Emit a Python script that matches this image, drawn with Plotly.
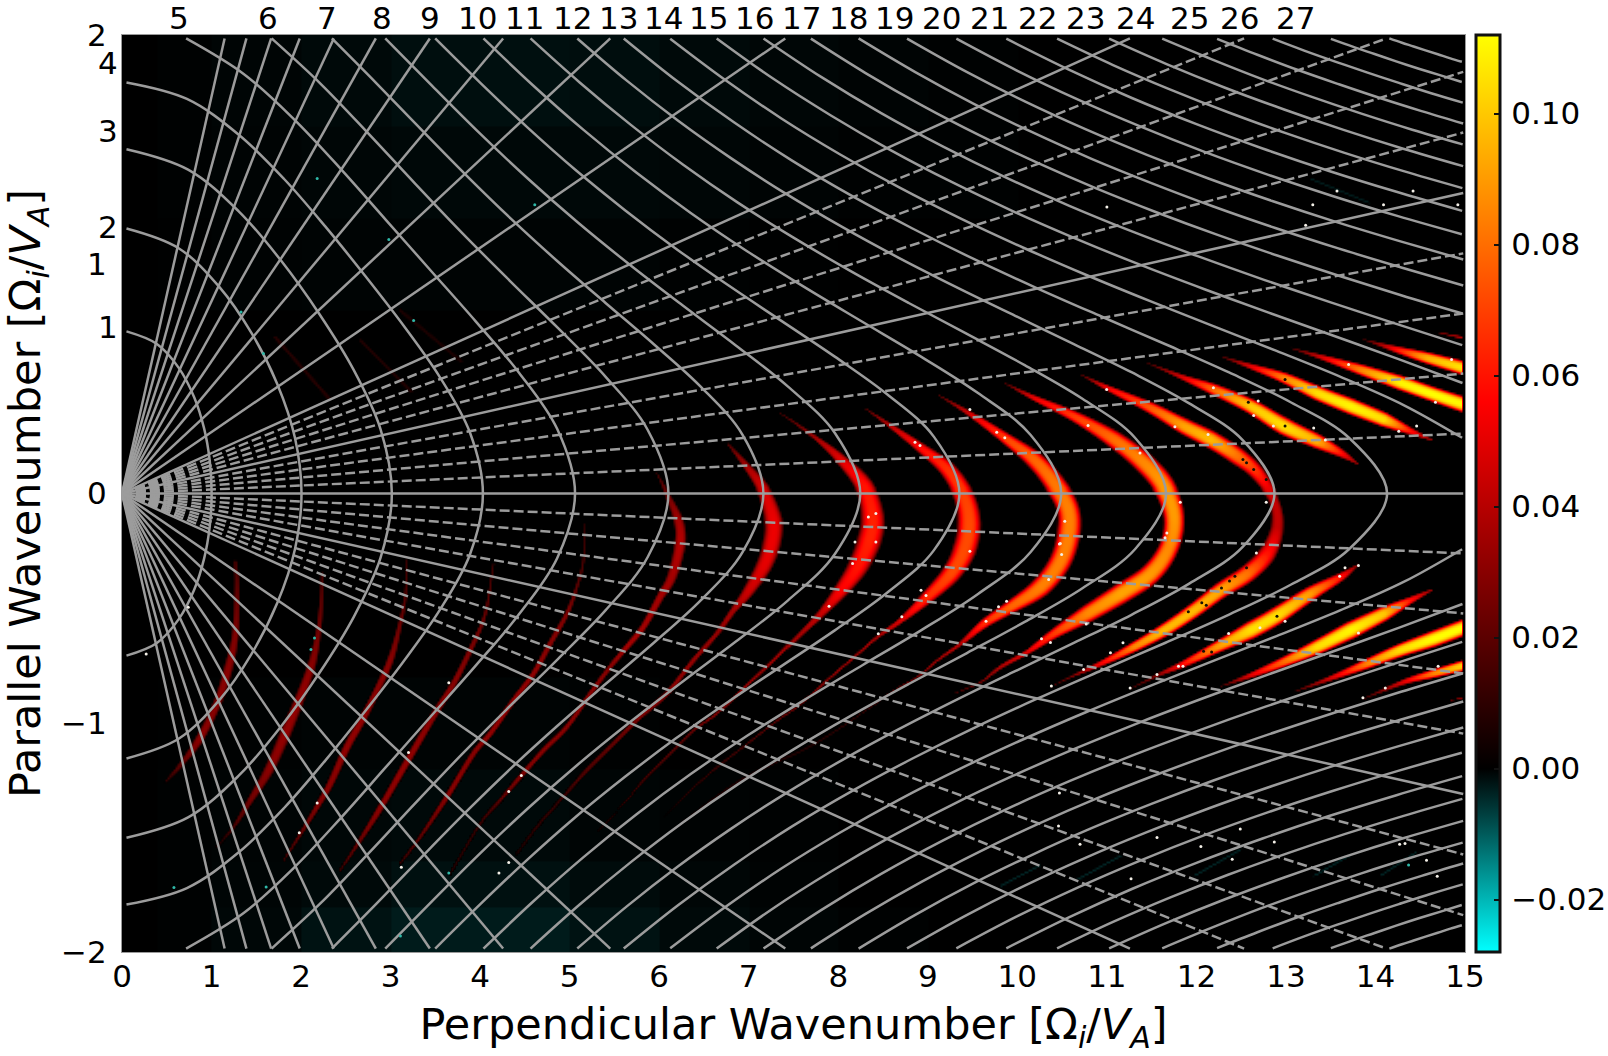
import numpy as np
import plotly.graph_objects as go

W, H = 1608, 1056
L, R, T, B = 122, 1465, 35, 952
XR = [0, 15]
YR = [-2, 2]
GRAY = "#9c9c9c"
FONT = "DejaVu Sans"

# Rays of constant propagation angle, measured from the perpendicular axis
ray_solid_deg = [0, 5, 10, 15, 20, 25, 30, 35, 40, 45, 50, 55, 60]
ray_dashed_deg = [1, 2, 3, 4, 6, 7, 8, 9]

# Harmonic numbers written along the top and left edges
top_n = list(range(5, 28))
top_x = [.642,1.627,2.292,2.899,3.438,3.965,4.492,5.03,5.546,6.05,6.554,7.059,7.586,8.113,8.628,9.155,9.694,10.22,10.76,11.32,11.92,12.48,13.11]
left_n = [1, 2, 3, 4]
left_y = [.725, 1.161, 1.583, 1.876]

# Constant-frequency contours for each harmonic: upper half, the lower half mirrors it
c1_x=[.05,.386,.634,.805,.917,.98,1.001]
c1_y=[.707,.653,.548,.421,.284,.143,0]
c2_x=[.05,.633,1.089,1.449,1.734,1.931,2.005]
c2_y=[1.156,1.07,.9,.698,.478,.244,0]
c3_x=[.05,.738,1.301,1.778,2.204,2.586,2.888,3.014]
c3_y=[1.502,1.413,1.232,1.015,.783,.54,.28,0]
c4_x=[.05,.725,1.304,1.808,2.27,2.713,3.144,3.55,3.885,4.031]
c4_y=[1.793,1.721,1.565,1.373,1.165,.951,.733,.508,.267,0]
c5_x=[.716,1.359,1.922,2.44,2.944,3.445,3.948,4.436,4.86,5.06]
c5_y=[1.985,1.83,1.632,1.417,1.195,.974,.752,.526,.282,0]
c6_x=[1.671,2.227,2.753,3.271,3.795,4.329,4.871,5.402,5.872,6.103]
c6_y=[1.985,1.784,1.57,1.353,1.138,.929,.721,.509,.277,0]
c7_x=[2.344,2.845,3.338,3.834,4.343,4.867,5.401,5.943,6.466,6.931,7.164]
c7_y=[1.985,1.788,1.589,1.392,1.199,1.012,.831,.65,.465,.256,0]
c8_x=[2.94,3.464,3.991,4.532,5.092,5.668,6.26,6.856,7.439,7.964,8.246]
c8_y=[1.985,1.778,1.573,1.374,1.182,.999,.821,.646,.466,.263,0]
c9_x=[3.498,4.008,4.528,5.063,5.618,6.187,6.772,7.365,7.961,8.542,9.069,9.353]
c9_y=[1.985,1.789,1.597,1.412,1.236,1.068,.908,.753,.597,.434,.247,0]
c10_x=[4.037,4.589,5.155,5.744,6.352,6.982,7.623,8.269,8.924,9.561,10.149,10.49]
c10_y=[1.985,1.781,1.586,1.4,1.224,1.057,.9,.749,.597,.438,.255,0]
c11_x=[4.563,5.112,5.68,6.268,6.874,7.5,8.139,8.787,9.437,10.082,10.727,11.314,11.661]
c11_y=[1.985,1.793,1.609,1.434,1.27,1.116,.97,.831,.696,.56,.413,.243,0]
c12_x=[5.085,5.638,6.212,6.801,7.413,8.038,8.671,9.324,9.976,10.631,11.275,11.92,12.517,12.872]
c12_y=[1.985,1.801,1.626,1.463,1.308,1.164,1.029,.899,.775,.652,.529,.393,.233,0]
c13_x=[5.604,6.21,6.835,7.484,8.152,8.829,9.524,10.228,10.939,11.655,12.365,13.058,13.71,14.13]
c13_y=[1.985,1.796,1.619,1.452,1.298,1.156,1.021,.894,.772,.651,.528,.397,.241,0]
c14_x=[6.123,6.734,7.369,8.017,8.686,9.369,10.068,10.771,11.477,12.196,12.895,13.604,14.314,14.968]
c14_y=[1.984,1.805,1.635,1.48,1.334,1.199,1.072,.953,.84,.729,.622,.51,.386,.243]
c15_x=[6.642,7.271,7.918,8.584,9.26,9.954,10.665,11.376,12.09,12.807,13.532,14.258,14.972]
c15_y=[1.985,1.81,1.649,1.498,1.36,1.231,1.11,.997,.891,.789,.688,.586,.482]
c16_x=[7.165,7.813,8.479,9.166,9.863,10.581,11.302,12.03,12.764,13.492,14.241,14.969]
c16_y=[1.985,1.816,1.659,1.514,1.38,1.255,1.14,1.033,.931,.835,.739,.647]
c17_x=[7.694,8.305,8.929,9.574,10.227,10.881,11.552,12.237,12.911,13.6,14.286,14.971]
c17_y=[1.984,1.834,1.694,1.563,1.442,1.331,1.227,1.128,1.037,.949,.865,.785]
c18_x=[8.227,8.86,9.503,10.16,10.829,11.505,12.19,12.89,13.585,14.288,14.98]
c18_y=[1.985,1.838,1.702,1.577,1.46,1.353,1.252,1.157,1.069,.986,.907]
c19_x=[8.768,9.423,10.089,10.76,11.447,12.142,12.847,13.558,14.27,14.98]
c19_y=[1.984,1.841,1.709,1.589,1.477,1.373,1.276,1.185,1.101,1.021]
c20_x=[9.319,9.995,10.679,11.372,12.083,12.804,13.511,14.243,14.965]
c20_y=[1.984,1.845,1.718,1.601,1.491,1.39,1.299,1.211,1.131]
c21_x=[9.877,10.575,11.286,12.008,12.739,13.482,14.234,14.968]
c21_y=[1.984,1.849,1.724,1.61,1.505,1.407,1.316,1.233]
c22_x=[10.444,11.069,11.703,12.354,13.006,13.655,14.315,14.971]
c22_y=[1.984,1.869,1.763,1.663,1.571,1.486,1.406,1.332]
c23_x=[11.025,11.667,12.32,12.98,13.644,14.31,14.979]
c23_y=[1.984,1.873,1.77,1.675,1.586,1.504,1.428]
c24_x=[11.618,12.166,12.719,13.281,13.843,14.411,14.974]
c24_y=[1.984,1.895,1.81,1.731,1.657,1.587,1.523]
c25_x=[12.231,12.681,13.143,13.6,14.059,14.515,14.979]
c25_y=[1.983,1.914,1.846,1.784,1.724,1.668,1.614]
c26_x=[12.852,13.204,13.558,13.912,14.262,14.622,14.975]
c26_y=[1.984,1.932,1.883,1.836,1.791,1.746,1.705]
c27_x=[13.502,13.746,13.99,14.231,14.484,14.719,14.964]
c27_y=[1.983,1.949,1.917,1.885,1.853,1.825,1.795]
c28_x=[14.155,14.296,14.426,14.559,14.696,14.837,14.965]
c28_y=[1.985,1.966,1.95,1.933,1.916,1.898,1.883]
contours = [(c1_x,c1_y),(c2_x,c2_y),(c3_x,c3_y),(c4_x,c4_y),(c5_x,c5_y),(c6_x,c6_y),(c7_x,c7_y),(c8_x,c8_y),
            (c9_x,c9_y),(c10_x,c10_y),(c11_x,c11_y),(c12_x,c12_y),(c13_x,c13_y),(c14_x,c14_y),(c15_x,c15_y),
            (c16_x,c16_y),(c17_x,c17_y),(c18_x,c18_y),(c19_x,c19_y),(c20_x,c20_y),(c21_x,c21_y),(c22_x,c22_y),
            (c23_x,c23_y),(c24_x,c24_y),(c25_x,c25_y),(c26_x,c26_y),(c27_x,c27_y),(c28_x,c28_y)]

# Growth-rate bands: ridge x, ridge y, half-thickness, ridge value
b1=([1.262,1.281,1.262,1.188,1.058,.853,.648,.481],[-.295,-.404,-.608,-.753,-.913,-1.073,-1.182,-1.255],[5,8,10,13,12,12,7,3],[.015,.02,.028,.03,.03,.03,.02,.01])
b2=([2.230,2.223,2.193,2.119,1.988,1.821,1.635,1.430,1.244,1.058],[-.346,-.462,-.593,-.739,-.884,-1.044,-1.204,-1.335,-1.451,-1.538],[4,6,8,12,14,16,14,9,5,3],[.015,.02,.025,.03,.032,.032,.03,.025,.015,.005])
b3=([3.180,3.161,3.087,2.994,2.845,2.677,2.510,2.324,2.175,1.970,1.802],[-.288,-.448,-.593,-.724,-.855,-.986,-1.102,-1.262,-1.364,-1.495,-1.597],[3,5,7,10,10,11,11,10,8,5,3],[.012,.018,.025,.03,.03,.032,.032,.03,.028,.02,.012])
b4=([4.148,4.055,3.887,3.701,3.515,3.254,3.105,2.845,2.584,2.435],[-.302,-.521,-.680,-.826,-.942,-1.117,-1.218,-1.393,-1.553,-1.640],[3,5,8,9,10,10,10,9,5,3],[.012,.022,.028,.03,.03,.032,.032,.03,.02,.012])
b5=([5.172,5.153,5.079,4.967,4.781,4.595,4.371,4.111,3.924,3.627,3.329,3.105],[-.128,-.288,-.404,-.521,-.651,-.782,-.899,-1.044,-1.131,-1.320,-1.495,-1.611],[3,4,5,7,8,8,8,8,8,8,5,3],[.01,.015,.02,.028,.03,.032,.032,.032,.03,.03,.02,.012])
b6=([5.972,6.084,6.214,6.233,6.139,6.009,5.823,5.637,5.451,5.228,4.967,4.706,4.446,4.222,3.999,3.664],[.090,.003,-.113,-.215,-.361,-.448,-.578,-.666,-.753,-.870,-1.015,-1.117,-1.233,-1.335,-1.437,-1.655],[2,7,14,16,14,11,9,8,7,7,7,7,7,5,4,3],[.012,.024,.036,.04,.036,.036,.036,.036,.03,.03,.03,.03,.028,.02,.012,.008])
b7=([6.772,6.977,7.163,7.275,7.256,7.163,6.977,6.828,6.642,6.382,6.084,5.786,5.488,5.190,4.893,4.632,4.409],[.214,.119,.018,-.113,-.215,-.317,-.433,-.506,-.608,-.724,-.870,-.971,-1.088,-1.204,-1.335,-1.451,-1.568],[3,10,18,25,25,22,15,9,7,7,7,7,6,6,4,4,3],[.018,.037,.047,.052,.052,.05,.044,.036,.033,.033,.03,.027,.022,.018,.012,.01,.006])
b8=([7.349,7.759,8.020,8.280,8.373,8.336,8.206,8.020,7.796,7.573,7.275,6.940,6.642,6.382,6.121,5.823,5.637,5.228],[.352,.236,.148,.032,-.099,-.201,-.317,-.419,-.521,-.608,-.724,-.848,-.957,-1.030,-1.131,-1.248,-1.335,-1.509],[2,7,15,25,32,33,28,20,11,7,5,4,4,4,4,3,2,1],[.012,.037,.05,.06,.063,.063,.06,.056,.044,.036,.034,.033,.028,.022,.018,.015,.01,.005])
b9=([8.280,8.578,8.913,9.211,9.397,9.453,9.397,9.248,8.987,8.690,8.429,8.168,7.908,7.573,7.275,6.940,6.605,6.233,5.823],[.374,.294,.199,.105,-.012,-.128,-.244,-.346,-.448,-.550,-.622,-.710,-.797,-.913,-1.000,-1.102,-1.204,-1.335,-1.495],[2,7,14,22,28,32,32,26,18,8,5,4,4,3,3,3,3,2,1],[.014,.042,.058,.066,.07,.072,.072,.072,.066,.048,.036,.033,.03,.026,.02,.015,.012,.008,.005])
b10=([9.099,9.471,9.881,10.179,10.402,10.551,10.570,10.477,10.253,9.918,9.620,9.360,9.099,8.876,8.615,8.354,7.72,6.9,6.2],[.432,.345,.235,.148,.047,-.055,-.157,-.288,-.404,-.491,-.564,-.651,-.724,-.797,-.855,-.928,-1.09,-1.25,-1.45],[2,8,16,24,28,30,32,30,27,18,13,6,4,3,2,2,3,3,2],[.014,.048,.072,.078,.082,.084,.084,.084,.084,.078,.066,.042,.033,.027,.018,.012,.008,.008,.005])
b11=([9.844,10.179,10.626,11.072,11.407,11.631,11.743,11.687,11.482,11.147,10.774,10.402,10.104,9.806,9.583,9.285],[.483,.417,.337,.236,.134,.032,-.099,-.230,-.346,-.433,-.521,-.608,-.688,-.753,-.819,-.870],[2,8,15,24,28,30,28,27,28,28,24,14,7,6,3,2],[.014,.052,.069,.08,.086,.09,.09,.086,.09,.092,.086,.069,.05,.038,.025,.012])
b12=([10.700,10.998,11.482,11.854,12.152,12.450,12.673,12.859,12.897,12.785,12.562,12.264,11.966,11.631,11.296,10.923,10.588,10.365],[.519,.461,.374,.294,.236,.163,.090,-.026,-.143,-.259,-.346,-.419,-.506,-.593,-.666,-.739,-.797,-.840],[2,8,16,22,24,24,20,14,18,24,24,22,20,18,14,8,3,2],[.013,.054,.076,.092,.097,.081,.065,.043,.043,.06,.081,.092,.097,.097,.086,.054,.025,.012])
b13u=([11.445,11.854,12.189,12.599,12.971,13.343,13.604,13.790],[.570,.505,.454,.381,.294,.228,.177,.131],[2,8,16,20,24,20,12,3],[.012,.05,.08,.1,.105,.095,.06,.03])
b13l=([13.790,13.604,13.269,12.897,12.599,12.227,11.854,11.556,11.259],[-.310,-.361,-.433,-.528,-.593,-.666,-.739,-.790,-.848],[3,12,20,24,24,16,10,5,2],[.03,.06,.09,.105,.105,.09,.06,.03,.012])
b14u=([12.264,12.599,12.971,13.343,13.716,14.088,14.386,14.628],[.599,.555,.505,.439,.381,.323,.272,.233],[2,8,15,20,22,20,10,3],[.012,.05,.085,.105,.11,.105,.06,.03])
b14l=([14.628,14.386,14.088,13.716,13.343,12.971,12.599,12.264],[-.416,-.462,-.521,-.593,-.666,-.731,-.790,-.838],[3,10,20,24,20,14,8,2],[.03,.06,.1,.11,.105,.08,.05,.012])
b15u=([13.046,13.418,13.827,14.274,14.646,15.1],[.635,.592,.541,.483,.432,.373],[2,8,15,20,20,22],[.012,.05,.085,.11,.112,.11])
b15l=([15.1,14.646,14.274,13.902,13.530,13.083],[-.563,-.630,-.680,-.739,-.797,-.862],[22,22,18,14,8,2],[.112,.112,.105,.085,.05,.012])
b16u=([13.865,14.237,14.572,15.1],[.672,.628,.592,.535],[2,10,16,20],[.012,.06,.095,.11])
b16l=([15.1,14.646,14.311,13.865],[-.735,-.782,-.819,-.891],[16,12,8,2],[.11,.085,.05,.012])
b17u=([14.684,15.1],[.704,.669],[2,6],[.02,.05])
b17l=([15.1,14.834],[-.878,-.899],[3,2],[.04,.02])
f1=([1.709,2.307],[.681,.416],[5,5],[.008,.008])
f2=([2.666,3.225],[.667,.445],[5,5],[.007,.007])
f3=([3.105,3.783],[.799,.578],[5,5],[.006,.006])
bands=[b1,b2,b3,b4,b5,b6,b7,b8,b9,b10,b11,b12,b13u,b13l,b14u,b14l,b15u,b15l,b16u,b16l,b17u,b17l,f1,f2,f3]

# Faint damped streaks (magnitudes of negative values)
t1=([9.807,10.24],[-1.709,-1.62],[3,3],[.004,.004])
t2=([10.67,11.15],[-1.68,-1.577],[3,3],[.004,.004])
t3=([11.97,12.49],[-1.665,-1.55],[3,3],[.004,.004])
t4=([13.31,13.7],[-1.665,-1.577],[3,3],[.004,.004])
t5=([14.05,14.44],[-1.665,-1.565],[3,3],[.004,.004])
t6=([13.27,13.92],[1.374,1.27],[3,3],[.003,.003])
teal_bands=[t1,t2,t3,t4,t5,t6]

# Weak negative background, in coarse blocks
haze_x=[0,.4,1,2,3,4,5,6,7,8,9,10,15]
haze_y=[-2,-1.8,-1.6,-1.2,-.8,.8,1.2,1.6,2]
haze_z=[
 [0,-.0002,-.0008,-.002,-.003,-.003,-.002,-.001,-.0005,-.0002,0,0],
 [0,-.0002,-.0005,-.001,-.0018,-.0018,-.0012,-.0007,-.0003,0,0,0],
 [0,-.0002,-.0004,-.0008,-.001,-.001,-.0006,-.0003,-.0002,0,0,0],
 [0,-.0001,-.0002,-.0004,-.0004,-.0004,-.0002,0,0,0,0,0],
 [0,0,0,0,0,0,0,0,0,0,0,0],
 [0,-.0001,-.0003,-.0004,-.0004,-.0004,-.0004,-.0002,-.0001,0,0,0],
 [0,-.0002,-.0004,-.0007,-.0009,-.0009,-.0009,-.0007,-.0004,-.0002,-.0002,0],
 [0,-.0002,-.0005,-.001,-.0015,-.0016,-.0014,-.001,-.0007,-.0004,-.0002,0],
]

# Isolated out-of-range cells
white_x=[10.79,10.998,12.19,12.69,11.37,11.82,11.67,11.65,10.48,10.495,10.53,12.67,12.78,13.81,13.66,13.60,12.99,12.71,12.36,13.81,10.77,11.18,11.04,10.74,11.56,11.80,11.85,11.26,10.38,14.85,14.67,14.26,14.46,14.70,14.11,13.86,13.70,13.44,12.64,12.86,13.31,11.76,12.13,8.857,8.913,8.336,8.42,8.42,8.187,8.16,7.897,9.47,8.924,8.98,8.71,8.447,9.77,9.86,9.47,10.47,10.35,9.88,9.79,9.65,10.27,10.37,.27,.74,4.32,4.21,4.46,4.32,3.65,3.2,1.98,2.18,3.12,12.49,12.87,14.33,14.27,11.56,12.05,12.4,11.27,14.69,14.57,10.7,10.46,10.47,11.0,13.3,13.57,14.42,14.09,14.92,13.22]
white_y=[.297,.454,.461,.403,.177,-.038,-.172,-.193,-.218,-.266,-.121,-.259,-.038,-.314,-.324,-.361,-.557,-.586,-.611,-.608,-.569,-.651,-.695,-.768,-.790,-.753,-.753,-.848,-.840,.584,.398,.272,.294,-.753,-.848,-.891,.563,.233,.340,.294,.286,.291,.257,.224,.209,-.102,-.087,-.212,-.212,-.305,-.492,-.252,-.422,-.445,-.538,-.612,.267,.243,.366,-.22,-.375,-.47,-.494,-.557,-.634,-.65,-.70,-.496,-1.61,-1.655,-1.23,-1.30,-.825,-1.13,-1.48,-1.35,-1.63,-1.464,-1.52,-1.527,-1.53,-1.5,-1.54,-1.595,-1.68,-1.67,-1.6,-1.53,-1.45,-1.306,1.25,1.26,1.32,1.32,1.26,1.26,1.17]
black_x=[12.58,12.99,12.99,12.28,12.37,12.43,12.56,12.06,12.11,11.91,12.90,12.08,12.17,12.56,12.52,12.64,12.78]
black_y=[.398,.497,.294,-.412,-.382,-.361,-.324,-.477,-.487,-.516,-.535,-.688,-.691,.134,.148,.105,.061]
teal_x=[2.18,2.98,3.257,1.33,1.58,4.61,.58,1.61,3.11,3.65,2.11,2.15,14.37]
teal_y=[1.374,1.108,.755,.792,.611,1.26,-1.719,-1.717,-1.93,-1.655,-.68,-.63,-1.62]

nx, ny = 672, 459
gx = np.linspace(XR[0], XR[1], nx)
gy = np.linspace(YR[0], YR[1], ny)
aspect = ((B - T) / 4) / ((R - L) / 15)
unit = 1.2 / 268.6

def rounded(xs, ys, hw, pk, sub=5):
    """Round a ridge through its table rows so that the band has no kinks."""
    xs, ys = np.asarray(xs, float), np.asarray(ys, float)
    if len(xs) < 3:
        return xs, ys, np.asarray(hw, float), np.asarray(pk, float)
    px = np.r_[2 * xs[0] - xs[1], xs, 2 * xs[-1] - xs[-2]]
    py = np.r_[2 * ys[0] - ys[1], ys, 2 * ys[-1] - ys[-2]]
    ox, oy, oh, ov = [], [], [], []
    for i in range(len(xs) - 1):
        for t in np.arange(sub) / sub:
            c = [-.5*t**3 + t**2 - .5*t, 1.5*t**3 - 2.5*t**2 + 1, -1.5*t**3 + 2*t**2 + .5*t, .5*t**3 - .5*t**2]
            ox.append(sum(c[j] * px[i + j] for j in range(4)))
            oy.append(sum(c[j] * py[i + j] for j in range(4)))
            oh.append(hw[i] + t * (hw[i + 1] - hw[i]))
            ov.append(pk[i] + t * (pk[i + 1] - pk[i]))
    ox.append(xs[-1]); oy.append(ys[-1]); oh.append(hw[-1]); ov.append(pk[-1])
    return np.array(ox), np.array(oy), np.array(oh), np.array(ov)

def stamp(field, xs, ys, hw, pk):
    xs, ys, hw, pk = rounded(xs, ys, hw, pk)
    for i in range(len(xs) - 1):
        x0, x1, y0, y1 = xs[i], xs[i + 1], ys[i], ys[i + 1]
        mw = max(hw[i], hw[i + 1]) * unit
        ix = np.where((gx >= min(x0, x1) - mw) & (gx <= max(x0, x1) + mw))[0]
        iy = np.where((gy >= min(y0, y1) - mw / aspect) & (gy <= max(y0, y1) + mw / aspect))[0]
        if len(ix) == 0 or len(iy) == 0:
            continue
        X, Y = np.meshgrid(gx[ix], gy[iy])
        ax, ay = x1 - x0, (y1 - y0) * aspect
        px, py = X - x0, (Y - y0) * aspect
        t = np.clip((px * ax + py * ay) / (ax * ax + ay * ay), 0, 1)
        d = np.sqrt((px - t * ax)**2 + (py - t * ay)**2)
        w = (hw[i] + t * (hw[i + 1] - hw[i])) * unit
        v = pk[i] + t * (pk[i + 1] - pk[i])
        val = np.clip(v * (1 - (d / w)**3), 0, None)
        sub = np.ix_(iy, ix)
        field[sub] = np.maximum(field[sub], val)

pos = np.zeros((ny, nx))
for band in bands:
    stamp(pos, *band)
pos[:, gx > 14.965] = 0
neg = np.zeros((ny, nx))
for band in teal_bands:
    stamp(neg, *band)
ix = np.clip(np.searchsorted(haze_x, gx, side="right") - 1, 0, len(haze_x) - 2)
iy = np.clip(np.searchsorted(haze_y, gy, side="right") - 1, 0, len(haze_y) - 2)
haze = np.array(haze_z)[np.ix_(iy, ix)]
z = np.where(pos > 0, pos, haze - neg).astype("float32")

fig = go.Figure()
fig.add_trace(go.Heatmap(
    x=gx, y=gy, z=z, zmin=-.028, zmax=.112, zsmooth="best", hoverinfo="skip",
    colorscale=[[0, "rgb(0,255,255)"], [.2, "rgb(0,0,0)"], [.6, "rgb(255,0,0)"], [1, "rgb(255,255,0)"]],
    colorbar=dict(
        x=(1476 - L) / (R - L), xanchor="left", xref="paper", y=.5, yanchor="middle", len=1, lenmode="fraction",
        thickness=24, outlinewidth=3, outlinecolor="#111", ypad=0, xpad=0,
        tickvals=[-.02, 0, .02, .04, .06, .08, .10],
        ticktext=["\u200a\u22120.02", "\u200a0.00", "\u200a0.02", "\u200a0.04", "\u200a0.06", "\u200a0.08", "\u200a0.10"],
        ticks="inside", ticklen=7, tickwidth=2, tickcolor="#111",
        tickfont=dict(family=FONT, size=31, color="black"),
    ),
))

curve_line = dict(color=GRAY, width=2.5, shape="spline")
for cx, cy in contours:
    if cy[-1] == 0:
        # the contour closes across the perpendicular axis: one stroke
        xs = list(cx) + list(cx[-2::-1])
        ys = list(cy) + [-v for v in cy[-2::-1]]
        fig.add_trace(go.Scatter(x=xs, y=ys, mode="lines", line=curve_line, hoverinfo="skip", showlegend=False))
    else:
        for sgn in (1, -1):
            fig.add_trace(go.Scatter(x=cx, y=[sgn * v for v in cy], mode="lines", line=curve_line,
                                     hoverinfo="skip", showlegend=False))

def add_ray(deg, dash):
    t = np.tan(np.radians(deg))
    xe = 14.98 if t == 0 else min(14.98, 1.985 / t)
    for sgn in ([1] if deg == 0 else [1, -1]):
        fig.add_trace(go.Scatter(x=[0, xe], y=[0, sgn * xe * t], mode="lines",
                                 line=dict(color=GRAY, width=2.5, dash=dash), hoverinfo="skip", showlegend=False))
for d in ray_solid_deg:
    add_ray(d, "solid")
for d in ray_dashed_deg:
    add_ray(d, "10px,4px")

fig.add_trace(go.Scatter(x=white_x, y=white_y, mode="markers", marker=dict(color="#f4f0e8", size=3), hoverinfo="skip", showlegend=False))
fig.add_trace(go.Scatter(x=black_x, y=black_y, mode="markers", marker=dict(color="#151005", size=3), hoverinfo="skip", showlegend=False))
fig.add_trace(go.Scatter(x=teal_x, y=teal_y, mode="markers", marker=dict(color="#2fb8a8", size=3), hoverinfo="skip", showlegend=False))

anns = []
for n, x in zip(top_n, top_x):
    anns.append(dict(x=x, y=1 + (T - 18) / (B - T), xref="x", yref="paper", yanchor="middle", xanchor="center",
                     borderpad=0, text=str(n), showarrow=False, font=dict(family=FONT, size=31, color="black")))
for n, y in zip(left_n, left_y):
    anns.append(dict(x=0, y=y, xref="x", yref="y", xanchor="right", yanchor="middle", xshift=-2,
                     text=str(n), showarrow=False, font=dict(family=FONT, size=31, color="black")))

fig.update_layout(
    width=W, height=H, margin=dict(l=L, r=W - R, t=T, b=H - B, autoexpand=False),
    paper_bgcolor="white", plot_bgcolor="black", showlegend=False, annotations=anns,
    font=dict(family=FONT, color="black"),
    xaxis=dict(range=XR, tickvals=list(range(16)), showgrid=False, zeroline=False, showline=True, mirror=True,
               linecolor="#9a9a9a", linewidth=1, ticks="", ticklen=0, ticklabelstandoff=-3,
               tickfont=dict(family=FONT, size=31),
               title=dict(text="Perpendicular Wavenumber [\u03a9<sub><i>i</i></sub>/<i>V<sub>A</sub></i>]",
                          font=dict(family=FONT, size=43), standoff=15)),
    yaxis=dict(range=YR, tickvals=[-2, -1, 0, 1, 2], ticktext=["\u22122", "\u22121", "0", "1", "2"],
               showgrid=False, zeroline=False, showline=True, mirror=True,
               linecolor="#9a9a9a", linewidth=1, ticks="outside", ticklen=8, tickcolor="rgba(0,0,0,0)",
               tickfont=dict(family=FONT, size=31),
               title=dict(text="Parallel Wavenumber [\u03a9<sub><i>i</i></sub>/<i>V<sub>A</sub></i>]",
                          font=dict(family=FONT, size=43), standoff=17)),
)
fig.write_html("out.html")
